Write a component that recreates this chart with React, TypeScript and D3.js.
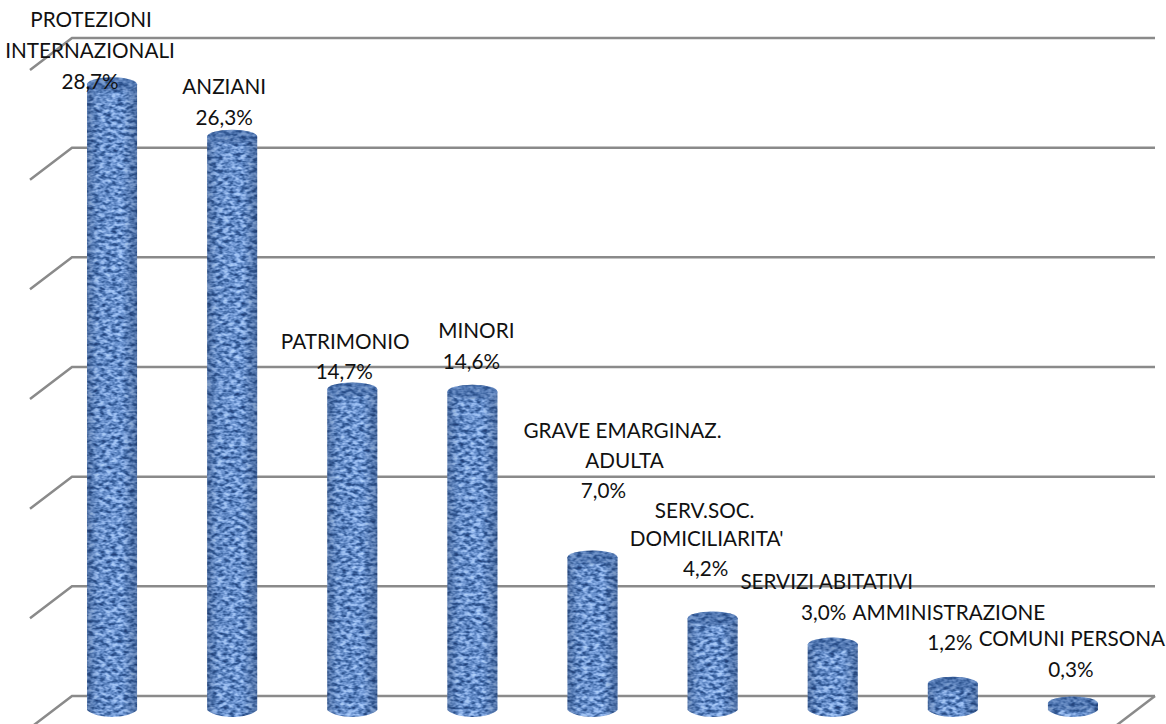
import * as d3 from "d3";

const categories = [
  "PROTEZIONI INTERNAZIONALI",
  "ANZIANI",
  "PATRIMONIO",
  "MINORI",
  "GRAVE EMARGINAZ. ADULTA",
  "SERV.SOC. DOMICILIARITA'",
  "SERVIZI ABITATIVI",
  "AMMINISTRAZIONE",
  "COMUNI PERSONA",
];
const values = [28.7, 26.3, 14.7, 14.6, 7.0, 4.2, 3.0, 1.2, 0.3];
const labelLines = [
  ["PROTEZIONI", "INTERNAZIONALI", "28,7%"],
  ["ANZIANI", "26,3%"],
  ["PATRIMONIO", "14,7%"],
  ["MINORI", "14,6%"],
  ["GRAVE EMARGINAZ.", "ADULTA", "7,0%"],
  ["SERV.SOC.", "DOMICILIARITA'", "4,2%"],
  ["SERVIZI ABITATIVI", "3,0%"],
  ["AMMINISTRAZIONE", "1,2%"],
  ["COMUNI PERSONA", "0,3%"],
];
// hand placed label anchors, [dx from bar centre, baseline y] per line
const labelAnchors = [
  [[-21, 27], [-22, 58], [-22, 89]],
  [[-8, 94], [-8, 125]],
  [[-7, 349], [-8, 379]],
  [[4, 338], [-1, 369]],
  [[30, 438], [32, 468], [11, 498]],
  [[-8, 518], [-6, 546], [-7, 576]],
  [[-6, 589], [-9, 620]],
  [[-4, 620], [-3, 650]],
  [[-1, 646], [-2, 677]],
];

const width = 1166;
const height = 724;
const rx = 25;
const ry = 7;
const depthX = 42;
const depthY = 32;

const x = d3.scaleBand<string>().domain(categories).range([52, 1133]).padding(0);
const gridY = d3.scaleLinear().domain([0, 30]).range([696, 38]);
const barY = d3.scaleLinear().domain([0, 30]).range([710, 56]);

function cylinderBody(cx: number, top: number, bottom: number) {
  const p = d3.path();
  p.moveTo(cx - rx, top);
  p.lineTo(cx - rx, bottom);
  p.bezierCurveTo(cx - rx * 0.6, bottom + ry * 1.33, cx + rx * 0.6, bottom + ry * 1.33, cx + rx, bottom);
  p.lineTo(cx + rx, top);
  p.closePath();
  return p.toString();
}

export default function App() {
  const ticks = gridY.ticks(6);
  return (
    <svg
      width={width}
      height={height}
      style={{ position: "absolute", left: 0, top: 0, background: "#fff" }}
      fontFamily="Lato, 'Open Sans', sans-serif"
    >
      <defs>
        <filter id="weave" x="0" y="0" width="100%" height="100%" colorInterpolationFilters="sRGB">
          <feTurbulence type="fractalNoise" baseFrequency="0.17 0.3" numOctaves={2} seed={7} result="noise" />
          <feColorMatrix
            in="noise"
            type="matrix"
            values="1 0 0 0 0  1 0 0 0 0  1 0 0 0 0  0 0 0 0 1"
          />
          <feComponentTransfer>
            <feFuncR type="table" tableValues="0.13 0.13 0.22 0.42 0.62 0.72 0.72" />
            <feFuncG type="table" tableValues="0.25 0.25 0.38 0.58 0.76 0.85 0.85" />
            <feFuncB type="table" tableValues="0.48 0.48 0.62 0.82 0.97 1 1" />
          </feComponentTransfer>
          <feGaussianBlur stdDeviation="0.6" />
          <feComposite in2="SourceAlpha" operator="in" />
        </filter>
        <linearGradient id="shade" x1="0" x2="1" y1="0" y2="0">
          <stop offset="0" stopColor="#1c3560" stopOpacity={0.4} />
          <stop offset="0.2" stopColor="#1c3560" stopOpacity={0.08} />
          <stop offset="0.7" stopColor="#1c3560" stopOpacity={0.02} />
          <stop offset="1" stopColor="#1c3560" stopOpacity={0.42} />
        </linearGradient>
      </defs>

      <g stroke="#8a8a8a" strokeWidth={2.5} fill="none">
        {ticks.map((t) => (
          <path
            key={t}
            d={`M${width - 11},${gridY(t)}H72L${72 - depthX},${gridY(t) + depthY}`}
          />
        ))}
        <line
          x1={width - 11}
          y1={gridY(0)}
          x2={width - 11 - depthX}
          y2={gridY(0) + depthY}
        />
      </g>

      {categories.map((c, i) => {
        const cx = x(c)! + x.bandwidth() / 2;
        const top = barY(values[i]);
        const bottom = barY(0);
        const body = cylinderBody(cx, top, bottom);
        return (
          <g key={c}>
            <path d={body} fill="#4f78b8" filter="url(#weave)" />
            <path d={body} fill="url(#shade)" />
            <ellipse cx={cx} cy={top} rx={rx} ry={ry} fill="#4f78b8" filter="url(#weave)" />
            <ellipse cx={cx} cy={top} rx={rx} ry={ry} fill="#274a80" fillOpacity={0.38} />
          </g>
        );
      })}

      <g fontSize={20.7} fill="#111" textAnchor="middle">
        {categories.map((c, i) => {
          const cx = x(c)! + x.bandwidth() / 2;
          return labelLines[i].map((line, j) => (
            <text key={line} x={cx + labelAnchors[i][j][0]} y={labelAnchors[i][j][1]}>
              {line}
            </text>
          ));
        })}
      </g>
    </svg>
  );
}
